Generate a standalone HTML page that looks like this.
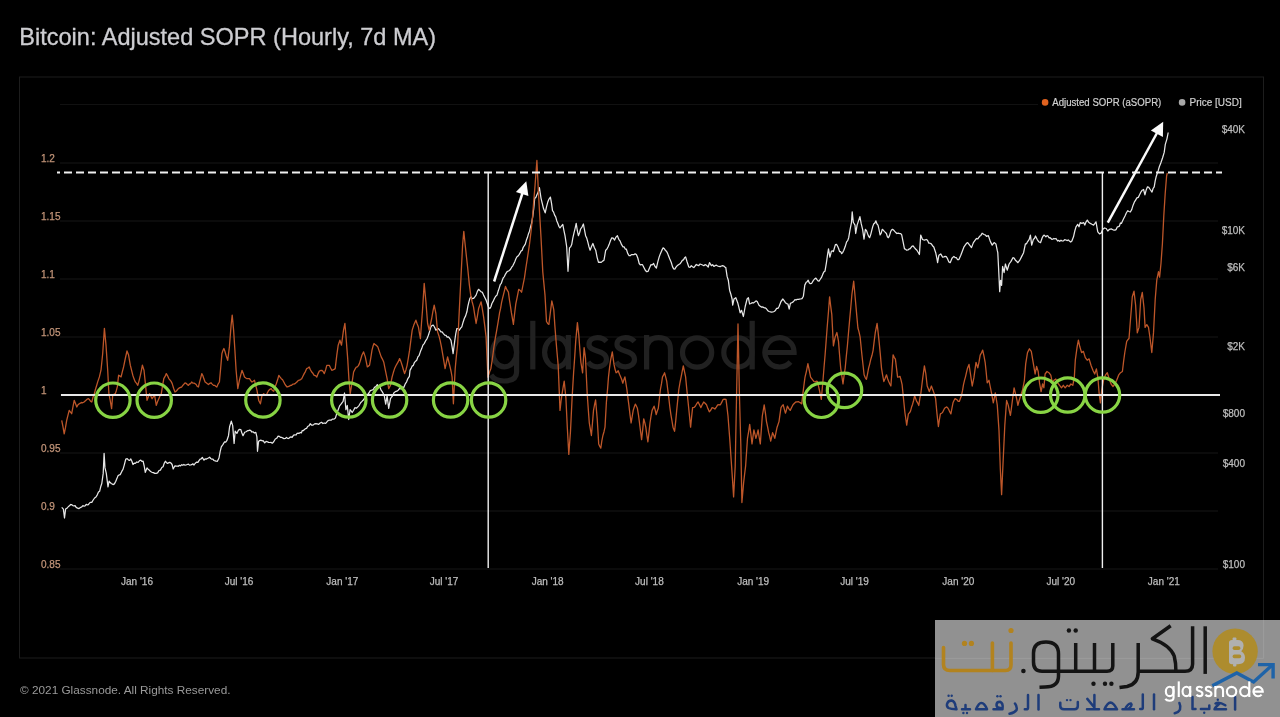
<!DOCTYPE html><html><head><meta charset="utf-8"><style>html,body{margin:0;padding:0;background:#000;width:1280px;height:717px;overflow:hidden}svg{display:block;will-change:transform}</style></head><body>
<svg width="1280" height="717" viewBox="0 0 1280 717" font-family="'Liberation Sans', sans-serif">
<rect width="1280" height="717" fill="#000"/><g opacity="0.999">
<text x="19.3" y="44.8" font-size="23.6" fill="#cdcdd1" stroke="#cdcdd1" stroke-width="0.3" textLength="416.8" lengthAdjust="spacingAndGlyphs">Bitcoin: Adjusted SOPR (Hourly, 7d MA)</text>
<rect x="19.5" y="77" width="1244" height="581" fill="none" stroke="#1d1d1d" stroke-width="1"/>
<line x1="60" y1="104.5" x2="1218" y2="104.5" stroke="#111111" stroke-width="1"/>
<line x1="60" y1="163" x2="1218" y2="163" stroke="#161616" stroke-width="1"/>
<line x1="60" y1="221" x2="1218" y2="221" stroke="#161616" stroke-width="1"/>
<line x1="60" y1="279" x2="1218" y2="279" stroke="#161616" stroke-width="1"/>
<line x1="60" y1="337" x2="1218" y2="337" stroke="#161616" stroke-width="1"/>
<line x1="60" y1="395" x2="1218" y2="395" stroke="#161616" stroke-width="1"/>
<line x1="60" y1="453" x2="1218" y2="453" stroke="#161616" stroke-width="1"/>
<line x1="60" y1="511" x2="1218" y2="511" stroke="#161616" stroke-width="1"/>
<line x1="60" y1="569" x2="1218" y2="569" stroke="#161616" stroke-width="1"/>
<g fill="none" stroke="#212121" stroke-width="5.2">
<ellipse cx="504.6" cy="352.2" rx="12" ry="14.6"/>
<path d="M516.6,335 V372 Q516.6,381 504,381 Q495,381 491,375"/>
<path d="M532.8,320.8 V369.4"/>
<ellipse cx="556.5" cy="352.2" rx="11.9" ry="14.6"/>
<path d="M568.4,335 V369.4"/>
<path d="M606.5,341.5 C604,338.5 600.5,337.6 597.5,337.6 C592,337.6 589,340.5 589,344.2 C589,353 606.5,349 606.5,359.5 C606.5,363.8 602.5,366.8 597.5,366.8 C593.5,366.8 590,365 588,362"/>
<path d="M634.5,341.5 C632,338.5 628.5,337.6 625.5,337.6 C620,337.6 617,340.5 617,344.2 C617,353 634.5,349 634.5,359.5 C634.5,363.8 630.5,366.8 625.5,366.8 C621.5,366.8 618,365 616,362"/>
<path d="M646.6,369.4 V335 M646.6,350 Q646.6,337.6 658.5,337.6 Q670.5,337.6 670.5,350 V369.4"/>
<circle cx="697.1" cy="352.5" r="14.6"/>
<ellipse cx="737.9" cy="352.4" rx="14.1" ry="14.6"/>
<path d="M752.2,320.8 V369.4"/>
<path d="M765,352.5 H794.1 A14.6,14.6 0 1 0 790.5,362"/>
</g>

<text x="41" y="162.2" font-size="10" fill="#c29478" stroke="#c29478" stroke-width="0.25">1.2</text>
<text x="41" y="220.2" font-size="10" fill="#c29478" stroke="#c29478" stroke-width="0.25">1.15</text>
<text x="41" y="278.2" font-size="10" fill="#c29478" stroke="#c29478" stroke-width="0.25">1.1</text>
<text x="41" y="336.2" font-size="10" fill="#c29478" stroke="#c29478" stroke-width="0.25">1.05</text>
<text x="41" y="394.2" font-size="10" fill="#c29478" stroke="#c29478" stroke-width="0.25">1</text>
<text x="41" y="452.2" font-size="10" fill="#c29478" stroke="#c29478" stroke-width="0.25">0.95</text>
<text x="41" y="510.2" font-size="10" fill="#c29478" stroke="#c29478" stroke-width="0.25">0.9</text>
<text x="41" y="568.2" font-size="10" fill="#c29478" stroke="#c29478" stroke-width="0.25">0.85</text>
<text x="1245" y="133" font-size="10" fill="#bdbdbd" stroke="#bdbdbd" stroke-width="0.25" text-anchor="end">$40K</text>
<text x="1245" y="234.3" font-size="10" fill="#bdbdbd" stroke="#bdbdbd" stroke-width="0.25" text-anchor="end">$10K</text>
<text x="1245" y="270.7" font-size="10" fill="#bdbdbd" stroke="#bdbdbd" stroke-width="0.25" text-anchor="end">$6K</text>
<text x="1245" y="350" font-size="10" fill="#bdbdbd" stroke="#bdbdbd" stroke-width="0.25" text-anchor="end">$2K</text>
<text x="1245" y="417" font-size="10" fill="#bdbdbd" stroke="#bdbdbd" stroke-width="0.25" text-anchor="end">$800</text>
<text x="1245" y="466.8" font-size="10" fill="#bdbdbd" stroke="#bdbdbd" stroke-width="0.25" text-anchor="end">$400</text>
<text x="1245" y="568" font-size="10" fill="#bdbdbd" stroke="#bdbdbd" stroke-width="0.25" text-anchor="end">$100</text>
<text x="137" y="585.3" font-size="10" fill="#bdbdbd" stroke="#bdbdbd" stroke-width="0.25" text-anchor="middle">Jan '16</text>
<text x="239" y="585.3" font-size="10" fill="#bdbdbd" stroke="#bdbdbd" stroke-width="0.25" text-anchor="middle">Jul '16</text>
<text x="342.3" y="585.3" font-size="10" fill="#bdbdbd" stroke="#bdbdbd" stroke-width="0.25" text-anchor="middle">Jan '17</text>
<text x="444" y="585.3" font-size="10" fill="#bdbdbd" stroke="#bdbdbd" stroke-width="0.25" text-anchor="middle">Jul '17</text>
<text x="547.6" y="585.3" font-size="10" fill="#bdbdbd" stroke="#bdbdbd" stroke-width="0.25" text-anchor="middle">Jan '18</text>
<text x="649.4" y="585.3" font-size="10" fill="#bdbdbd" stroke="#bdbdbd" stroke-width="0.25" text-anchor="middle">Jul '18</text>
<text x="753.2" y="585.3" font-size="10" fill="#bdbdbd" stroke="#bdbdbd" stroke-width="0.25" text-anchor="middle">Jan '19</text>
<text x="854.6" y="585.3" font-size="10" fill="#bdbdbd" stroke="#bdbdbd" stroke-width="0.25" text-anchor="middle">Jul '19</text>
<text x="958.3" y="585.3" font-size="10" fill="#bdbdbd" stroke="#bdbdbd" stroke-width="0.25" text-anchor="middle">Jan '20</text>
<text x="1060.8" y="585.3" font-size="10" fill="#bdbdbd" stroke="#bdbdbd" stroke-width="0.25" text-anchor="middle">Jul '20</text>
<text x="1163.8" y="585.3" font-size="10" fill="#bdbdbd" stroke="#bdbdbd" stroke-width="0.25" text-anchor="middle">Jan '21</text>
<polyline points="61.7,507.4 63.4,509.1 64.5,518.0 65.6,509.1 67.3,508.0 68.4,506.5 69.5,505.8 70.6,504.5 71.7,504.7 72.8,505.6 74.0,505.8 75.1,505.7 76.2,507.4 77.6,508.1 79.0,508.6 80.4,507.5 81.8,506.9 82.9,505.6 84.0,506.2 85.1,505.8 86.2,504.4 87.3,504.9 88.4,504.7 89.5,503.0 90.7,502.3 91.8,502.4 93.2,500.0 94.6,498.0 96.0,497.0 97.4,494.6 98.5,492.1 99.6,491.3 100.7,486.8 101.8,483.5 103.2,473.4 104.1,453.4 105.0,467.9 106.3,473.4 108.0,486.8 109.1,481.2 110.2,482.6 111.3,483.5 113.0,484.6 114.4,483.9 115.8,481.2 116.9,478.6 118.0,475.7 119.1,474.9 120.2,474.6 121.9,471.2 123.0,469.4 124.1,465.6 125.8,459.0 127.2,458.6 128.6,460.1 129.7,460.3 130.8,459.0 131.9,461.3 133.0,464.5 134.2,463.2 135.3,463.4 136.7,462.0 138.1,462.3 139.4,460.8 140.8,460.1 141.9,461.3 143.1,461.2 144.2,466.0 145.3,472.3 147.0,467.9 148.1,469.2 149.2,470.1 150.6,471.5 152.0,472.3 153.4,472.6 154.8,473.4 156.2,473.3 157.6,472.9 159.0,470.5 160.4,470.1 161.8,467.5 163.1,466.8 164.2,463.4 165.4,461.2 166.5,462.7 167.6,463.4 168.7,462.7 169.8,462.3 170.9,463.0 172.1,464.5 173.2,469.0 175.0,465.8 176.1,466.2 177.2,466.0 178.3,466.3 179.4,465.3 180.6,465.9 181.7,464.7 182.8,465.3 183.9,464.5 185.0,465.2 186.1,465.0 187.3,464.5 188.4,464.1 189.5,465.1 190.6,465.0 191.7,464.7 192.8,463.8 194.0,465.0 195.1,463.5 196.5,462.1 197.9,462.4 199.0,460.6 200.1,459.1 201.2,458.8 202.3,457.4 204.0,460.2 205.1,458.9 206.2,459.1 207.3,458.5 208.4,458.0 209.6,457.2 210.7,458.5 211.8,459.2 212.9,459.1 214.0,460.5 215.1,460.8 216.2,461.2 217.4,461.3 219.0,458.0 220.2,451.3 221.3,446.8 222.9,444.6 224.6,441.8 225.7,442.1 226.8,440.7 228.5,435.7 229.6,426.8 231.3,421.2 232.7,425.6 234.1,443.5 235.2,431.2 236.9,433.4 238.5,430.1 239.7,429.4 240.8,429.5 241.9,433.0 243.0,435.7 244.7,432.3 246.1,431.7 247.5,430.7 248.6,430.6 249.7,430.1 250.8,430.6 251.9,432.0 253.0,431.8 254.4,433.0 255.8,432.3 256.9,436.8 257.5,451.3 258.6,441.2 259.7,440.6 260.8,440.1 262.0,440.8 263.1,440.7 264.7,442.9 266.1,441.4 267.5,441.8 268.6,442.4 269.8,442.5 270.9,442.4 272.3,443.2 273.7,441.8 275.3,439.0 276.7,438.3 278.1,436.2 279.2,436.3 280.4,437.3 281.5,437.3 282.6,437.9 284.0,438.6 285.4,438.5 286.5,437.4 287.6,438.4 288.7,438.5 289.8,437.4 291.0,436.9 292.1,437.3 293.6,435.1 295.0,434.8 296.1,435.0 297.1,433.3 298.1,433.2 299.2,433.4 300.2,432.5 301.3,432.9 302.3,430.5 303.4,430.7 304.4,429.5 305.5,428.7 306.6,428.4 307.6,426.5 309.0,425.8 310.3,423.7 311.7,425.2 313.1,425.1 314.5,423.9 315.9,423.7 317.3,423.9 318.7,424.4 320.1,423.0 321.5,422.3 322.9,423.5 324.3,423.0 325.7,423.3 327.1,421.6 328.2,420.5 329.2,420.2 330.2,420.0 331.3,420.2 332.3,419.1 333.4,419.1 334.4,418.8 335.4,418.1 336.8,413.4 338.2,409.7 339.6,405.9 341.0,404.2 342.1,402.6 343.1,401.4 344.5,393.0 345.9,409.7 347.3,405.5 348.7,419.5 350.1,409.7 351.1,410.8 352.2,412.5 353.6,410.2 355.0,407.6 356.4,408.2 357.8,406.9 359.2,405.3 360.6,402.8 362.0,401.4 363.3,400.0 364.7,398.2 366.1,395.8 367.5,394.8 368.9,393.0 370.3,390.6 371.7,390.2 373.1,389.7 374.5,387.4 375.9,386.6 377.3,384.6 378.7,386.8 380.1,387.4 381.1,390.2 382.2,391.6 383.2,393.5 384.3,395.8 385.7,404.2 387.1,395.8 388.7,408.3 390.5,398.6 391.6,397.0 392.6,395.8 394.0,392.8 395.4,391.6 396.8,391.2 398.2,390.2 399.6,388.5 401.0,388.8 402.4,387.1 403.8,387.4 405.2,384.0 406.6,381.8 408.0,378.3 409.4,376.3 410.0,370.4 411.1,368.4 412.2,366.1 413.3,365.4 414.4,362.6 415.6,361.2 416.7,360.3 417.9,356.9 419.2,355.3 420.4,351.6 421.7,348.6 422.9,345.1 424.2,343.6 425.9,340.3 427.1,338.6 428.4,335.3 429.6,331.4 430.9,326.9 432.1,325.3 433.4,325.2 434.6,327.2 435.9,330.2 437.1,329.1 438.4,328.6 439.6,330.0 440.9,331.9 442.1,331.9 443.4,333.6 444.7,335.2 446.0,335.3 447.2,337.2 448.5,336.9 449.8,338.5 451.0,340.3 452.1,346.9 453.1,353.6 454.8,340.3 455.8,333.5 456.8,328.6 458.1,328.5 459.3,330.2 460.6,328.2 461.8,326.9 463.1,322.2 464.3,318.5 465.6,315.9 466.9,311.8 467.9,306.1 468.9,301.8 469.9,298.3 471.0,296.8 472.2,298.6 473.5,298.5 474.8,296.9 476.1,295.1 477.4,291.4 478.6,289.3 479.9,290.6 481.1,291.8 482.4,292.4 483.6,295.1 484.9,297.7 486.1,300.1 487.8,305.2 488.9,307.9 489.9,308.5 490.9,306.8 491.9,303.5 493.1,301.4 494.4,298.5 495.7,296.3 497.0,295.1 498.1,291.3 499.2,288.1 500.2,284.7 501.3,283.4 502.3,280.3 503.4,277.6 504.4,276.6 505.5,274.1 506.6,272.3 507.6,271.3 508.6,271.0 509.6,270.3 510.7,269.0 511.7,267.2 512.8,265.8 513.8,263.7 514.9,261.4 515.9,258.8 517.0,256.8 518.0,256.0 519.1,254.6 520.1,252.9 521.2,250.8 522.2,250.4 523.2,247.3 524.3,245.7 525.3,244.1 526.4,240.1 527.4,237.6 528.5,233.7 529.5,231.2 530.6,226.6 531.6,223.2 532.7,216.9 533.7,208.6 534.7,198.1 535.8,197.6 536.8,195.0 538.1,192.4 539.4,187.7 541.0,198.1 542.2,203.1 543.5,208.6 545.2,212.8 546.5,206.9 547.7,202.3 549.0,199.1 550.4,197.1 551.5,203.2 552.5,210.7 553.6,212.1 554.6,215.1 555.7,216.9 556.8,220.9 557.8,223.2 558.9,226.3 560.0,227.9 561.4,226.2 562.8,224.5 563.9,230.4 565.0,235.7 566.7,246.8 568.0,271.3 569.5,247.9 570.6,246.9 571.7,244.6 572.8,238.1 573.9,233.4 575.0,228.8 576.2,223.4 577.3,230.5 578.4,235.7 579.5,233.0 580.6,229.0 582.0,227.1 583.4,224.0 584.5,229.8 585.6,235.7 586.8,238.3 587.9,242.4 589.0,246.9 590.1,250.2 591.5,246.5 592.9,243.5 594.3,247.5 595.7,250.2 597.1,257.3 598.5,262.4 599.9,262.2 601.2,262.4 602.6,261.1 604.0,260.2 605.7,250.2 606.8,249.3 608.0,247.0 609.1,244.6 610.5,240.5 611.8,237.9 613.2,238.2 614.6,240.1 616.0,237.1 617.4,235.7 618.8,239.3 620.2,241.2 621.6,244.7 623.0,246.8 624.1,246.8 625.2,249.0 626.3,249.0 627.7,253.4 629.1,255.7 630.2,255.7 631.4,254.6 632.5,254.6 633.8,254.7 635.1,253.8 636.4,254.6 637.8,258.0 639.2,263.5 640.3,264.9 641.4,264.6 642.5,264.7 643.9,267.5 645.3,270.2 646.7,271.7 648.1,271.3 649.5,267.9 650.9,264.7 652.2,264.9 653.6,263.5 655.0,266.5 656.4,268.0 657.8,261.8 659.2,256.9 660.5,253.4 661.8,250.4 663.1,247.9 664.2,248.5 665.4,250.4 666.5,251.3 667.6,253.4 668.7,256.3 669.8,259.1 671.2,262.2 672.6,266.9 673.7,268.9 674.8,269.1 676.0,267.1 677.1,265.8 678.5,264.7 680.0,263.8 681.2,262.1 682.5,260.1 683.5,259.9 684.6,257.8 685.6,256.9 686.9,261.3 688.8,267.0 690.0,267.3 691.3,265.7 692.5,266.7 693.8,267.6 695.0,266.1 696.3,264.5 697.5,265.2 698.8,265.7 700.0,264.0 701.3,264.5 702.5,265.0 703.8,265.7 705.0,264.7 706.3,265.1 708.2,267.0 709.5,262.6 711.4,265.7 712.6,264.6 713.9,266.4 715.1,265.7 716.4,265.2 717.6,266.0 718.9,266.3 720.2,266.6 721.4,266.0 722.7,265.7 723.7,266.0 724.8,267.0 725.8,267.6 727.1,276.4 728.3,280.2 729.6,290.2 730.8,294.0 732.1,299.0 732.7,305.2 734.0,299.0 735.8,297.7 737.7,302.7 739.0,307.8 740.2,312.8 741.5,310.3 743.4,316.5 745.2,306.5 747.1,299.0 748.4,297.7 749.6,304.0 750.9,303.5 752.1,302.7 753.4,303.0 754.7,302.1 756.0,300.9 757.2,301.5 759.0,305.2 760.3,306.3 761.6,307.1 762.9,306.9 764.1,307.8 765.4,307.9 766.6,309.0 767.9,310.8 769.1,311.5 770.4,311.8 771.6,312.1 772.9,311.9 774.1,311.5 775.4,310.5 776.6,308.4 777.9,308.4 779.1,306.5 781.0,301.5 782.9,299.0 784.1,300.7 785.4,302.7 786.6,303.6 787.9,304.0 789.2,309.0 790.4,303.4 791.6,302.8 792.9,302.1 794.0,300.9 795.0,299.7 796.1,300.0 797.2,299.3 798.4,299.4 799.5,299.1 800.6,299.0 802.0,298.6 803.4,296.2 804.8,285.1 806.2,282.3 807.2,281.7 808.2,280.2 809.2,282.8 810.3,283.7 811.7,283.3 813.1,280.9 814.5,279.0 815.9,278.1 817.0,279.6 818.0,280.9 819.0,281.2 820.1,279.5 821.5,277.4 822.9,273.9 824.0,271.7 825.0,271.1 826.4,262.8 827.8,253.0 828.5,248.8 829.9,257.2 831.3,251.6 832.3,250.8 833.4,251.6 834.4,248.0 835.4,244.6 836.5,244.4 837.5,246.0 838.5,248.2 839.6,251.6 840.7,251.7 841.7,253.7 842.8,252.3 843.8,250.2 845.2,246.6 846.6,241.8 847.7,240.6 848.7,237.7 850.1,229.3 851.5,222.3 852.2,211.9 853.3,222.3 855.0,225.1 855.7,233.5 857.1,225.1 858.5,220.9 859.9,216.7 861.2,223.7 862.6,229.3 864.0,239.1 865.4,229.3 866.5,230.6 867.5,233.5 868.5,236.1 869.6,237.7 870.7,234.6 871.7,230.7 872.8,226.4 873.8,223.7 874.8,223.1 875.9,220.9 877.0,224.0 878.0,225.1 879.0,229.4 880.1,234.9 881.2,233.1 882.2,229.3 883.2,230.1 884.3,231.4 885.3,232.4 886.4,233.5 887.4,236.7 888.4,237.7 889.5,235.6 890.5,232.1 891.5,230.0 892.6,229.3 893.7,230.2 894.7,231.4 895.8,232.5 896.8,233.5 898.2,233.1 899.6,233.5 900.7,233.5 901.7,234.9 903.1,241.8 904.5,248.8 905.5,249.1 906.6,250.2 908.0,250.0 909.4,248.8 910.0,248.9 911.9,246.4 913.1,245.9 914.4,247.6 915.6,249.0 916.9,250.2 918.1,252.2 919.4,254.5 920.7,235.1 922.5,239.5 924.4,240.1 926.3,239.5 927.5,240.3 928.8,243.2 930.0,243.2 931.3,243.9 932.5,245.7 933.8,247.0 935.7,252.7 937.0,258.9 937.6,262.7 938.9,255.2 940.7,253.9 942.6,257.1 943.9,256.8 945.1,256.4 946.4,256.7 947.6,258.9 948.9,261.9 950.2,262.7 952.0,258.3 953.9,256.4 955.1,257.7 956.4,257.7 957.6,259.7 958.9,259.6 960.8,255.2 962.7,250.2 964.0,246.8 965.2,245.1 966.5,243.3 967.7,242.6 969.6,245.1 971.5,247.6 973.4,242.6 975.2,240.1 976.5,238.5 977.8,238.9 979.6,236.3 980.9,235.4 982.1,233.2 984.0,234.5 985.2,234.9 986.5,236.3 988.4,235.7 990.3,241.4 992.2,245.1 994.1,242.6 995.9,243.9 997.2,250.2 997.8,252.7 998.5,266.5 999.1,279.0 999.7,291.6 1000.6,280.3 1001.6,285.3 1002.6,266.5 1004.1,272.7 1005.4,264.0 1007.2,270.2 1009.1,264.0 1011.0,261.4 1012.9,257.7 1014.1,258.1 1015.4,260.2 1016.6,261.3 1017.9,262.7 1019.8,260.2 1021.7,256.4 1023.6,252.7 1025.4,243.9 1026.5,243.8 1027.5,241.8 1029.2,239.3 1030.4,235.1 1031.7,245.2 1033.4,239.3 1034.5,238.4 1035.5,236.0 1037.1,239.3 1038.8,241.8 1040.5,242.7 1042.2,237.7 1043.2,235.9 1044.2,235.1 1045.9,236.8 1047.0,235.6 1048.0,236.0 1049.0,237.8 1050.1,237.7 1051.8,239.3 1052.8,239.1 1053.9,238.5 1055.0,238.9 1056.0,238.5 1057.6,241.0 1058.7,240.3 1059.7,241.4 1061.0,240.2 1062.2,241.0 1063.5,240.8 1064.7,239.7 1066.0,240.0 1067.3,240.6 1068.3,239.9 1069.4,241.0 1070.7,242.0 1071.9,241.0 1073.5,236.8 1074.8,231.0 1076.0,226.8 1077.7,224.3 1079.0,226.8 1080.2,222.6 1081.9,223.4 1083.6,222.6 1084.8,225.1 1086.1,221.8 1087.3,220.1 1088.6,222.2 1090.3,223.4 1091.9,224.3 1093.6,225.1 1094.9,223.4 1096.0,221.8 1097.0,227.6 1097.8,231.8 1099.5,233.9 1101.2,233.1 1102.8,229.3 1104.5,228.0 1106.2,228.5 1107.8,231.0 1109.5,229.3 1111.2,228.9 1112.9,229.7 1114.0,230.2 1115.0,230.1 1116.1,229.6 1117.3,226.9 1118.4,226.6 1119.4,226.1 1120.4,223.0 1121.4,223.4 1122.4,221.3 1123.7,218.5 1125.0,216.0 1126.3,213.0 1127.7,210.7 1129.0,211.5 1130.3,212.0 1131.7,209.6 1133.0,205.4 1134.3,202.2 1135.6,200.1 1136.9,197.9 1138.3,197.4 1139.6,194.8 1140.9,192.1 1142.2,190.2 1143.6,189.5 1144.9,194.8 1146.2,189.9 1147.5,186.8 1148.8,187.4 1150.2,189.5 1152.0,192.1 1153.1,188.5 1154.2,186.8 1155.2,180.8 1156.3,176.2 1158.1,170.9 1159.4,166.5 1160.8,163.0 1162.6,157.7 1164.2,152.4 1165.3,144.4 1166.9,139.1 1168.2,132.5" fill="none" stroke="#e6e6e6" stroke-width="1.25" stroke-linejoin="round"/>
<polyline points="61.7,420.4 63.0,426.9 64.2,433.8 65.5,427.4 66.7,420.4 68.0,415.1 69.2,410.4 70.5,412.1 71.7,413.7 73.0,406.6 74.2,400.3 75.5,403.5 76.8,407.0 78.0,404.8 79.3,403.7 80.4,403.1 81.5,402.5 82.6,402.8 83.7,402.2 84.9,401.2 86.0,400.3 87.2,399.1 88.5,398.7 89.6,399.8 90.7,401.4 91.8,402.0 92.9,397.6 94.1,394.6 95.2,390.3 96.5,386.0 97.7,381.9 99.4,376.9 101.0,370.2 102.7,353.5 104.4,328.4 106.0,345.1 107.7,370.2 108.9,393.6 110.2,400.3 111.6,408.7 112.7,395.3 114.0,394.4 115.3,393.6 116.3,390.7 117.3,386.9 118.6,375.2 119.8,375.9 121.1,376.9 122.3,371.9 123.6,366.9 125.3,358.5 127.0,351.0 128.6,355.1 130.3,365.2 131.6,370.4 132.8,375.2 134.1,379.1 135.3,381.9 136.6,383.4 137.8,385.3 139.1,380.6 140.4,375.2 141.4,370.4 142.4,365.2 144.0,370.2 145.4,383.6 147.0,400.3 148.3,397.1 149.6,393.6 150.8,396.0 152.1,398.7 153.3,396.8 154.6,395.3 156.3,405.4 157.6,401.5 158.8,398.7 160.1,395.7 161.3,393.6 162.6,385.6 163.8,378.6 165.1,376.4 166.3,373.6 167.6,375.8 168.8,378.6 169.9,379.9 171.1,381.4 172.2,383.6 173.6,388.2 175.0,392.0 176.1,391.3 177.2,390.0 178.3,388.7 179.4,387.9 180.6,387.3 181.7,387.0 182.8,385.4 183.9,384.2 185.0,382.8 186.1,383.3 187.3,384.5 188.4,385.4 189.5,384.0 190.6,383.7 191.7,382.0 192.8,383.1 194.0,383.2 195.1,383.7 196.2,384.5 197.3,386.5 198.4,387.0 199.5,382.3 200.7,377.9 201.8,373.6 202.9,375.8 204.0,379.1 205.1,382.0 206.2,382.8 207.4,383.7 208.5,384.5 209.8,383.3 211.0,382.8 212.2,384.1 213.5,385.4 214.6,385.3 215.7,386.2 216.8,387.0 218.1,384.0 219.4,382.0 220.7,367.7 221.9,353.6 222.9,350.5 223.9,348.5 224.9,351.3 226.0,355.2 227.7,360.3 229.4,346.9 231.1,325.1 232.2,315.1 233.6,330.1 234.9,350.2 236.1,370.3 237.8,388.7 239.4,380.3 240.7,375.1 242.0,370.3 243.2,373.3 244.5,377.0 245.8,378.0 247.0,378.7 248.2,378.7 249.5,378.7 250.8,380.7 252.0,382.0 253.2,381.3 254.5,380.3 255.8,385.6 257.0,390.4 258.7,400.4 260.4,403.8 262.0,395.4 263.7,393.7 264.9,395.0 266.2,395.4 267.4,392.8 268.7,390.4 269.9,389.3 271.2,388.7 272.4,390.5 273.7,391.2 275.0,387.0 276.3,383.7 277.6,379.8 278.8,375.3 280.1,377.2 281.3,378.7 282.6,379.8 283.8,382.0 284.9,384.1 286.0,385.8 287.1,387.0 288.2,386.6 289.4,386.2 290.5,385.4 291.6,385.3 292.8,384.1 293.9,384.2 295.0,383.7 296.1,382.6 297.2,381.8 298.3,380.3 299.4,380.1 300.6,379.6 301.7,378.7 302.9,376.3 304.2,373.6 305.4,371.6 306.7,368.6 307.9,368.0 309.2,366.9 310.4,369.7 311.7,372.0 312.9,373.3 314.2,375.3 315.5,375.6 316.8,377.0 318.1,373.6 319.3,371.1 320.6,370.5 321.8,370.3 323.1,371.5 324.3,373.6 325.6,369.9 326.8,365.3 328.1,365.4 329.3,365.3 330.6,368.0 331.8,370.3 332.9,369.9 334.1,369.4 335.2,368.6 336.8,355.2 338.2,345.2 339.9,340.2 341.5,345.2 342.5,337.6 343.5,330.1 344.9,323.4 346.0,336.8 347.7,358.6 348.9,378.7 350.2,393.7 351.9,383.7 353.6,372.0 355.3,368.6 356.3,367.2 357.3,366.9 358.4,365.6 359.4,363.6 360.6,359.7 361.9,355.2 363.6,351.9 365.3,356.9 366.3,361.9 367.3,366.9 368.4,366.1 369.5,365.3 370.8,357.9 372.0,350.2 373.0,346.3 374.0,343.5 375.1,344.6 376.2,345.2 377.8,346.9 379.5,351.9 381.2,356.9 382.4,359.1 383.7,361.9 385.4,370.3 387.1,378.7 388.7,388.7 390.4,385.4 392.1,377.0 393.4,372.3 394.6,368.6 395.9,365.8 397.1,363.6 398.4,361.4 399.6,358.6 400.9,361.6 402.1,365.3 403.4,369.7 404.6,373.6 405.9,370.0 407.1,365.3 408.4,357.7 409.6,350.2 410.9,340.0 412.2,330.1 413.8,325.1 414.9,322.6 415.9,320.2 417.1,323.8 418.4,326.9 419.4,333.1 420.4,338.6 421.4,324.5 422.5,310.2 424.2,283.4 425.9,301.8 427.6,323.5 429.2,330.2 430.4,324.5 431.7,318.5 432.9,311.3 434.2,305.2 435.9,313.5 437.6,331.9 438.9,335.7 440.1,340.3 441.4,346.7 442.6,353.6 443.9,361.4 445.1,368.7 446.4,362.6 447.6,357.0 448.9,362.1 450.1,367.0 451.1,371.5 452.1,377.1 453.4,403.8 455.2,368.7 456.4,355.6 457.7,343.6 459.3,310.2 461.0,276.7 462.6,245.0 463.8,231.4 465.2,245.0 466.4,256.2 467.7,268.0 469.4,285.1 471.0,296.8 472.2,302.0 473.5,306.8 474.8,315.4 476.1,323.5 477.4,316.2 478.6,308.5 479.9,304.9 481.1,301.8 482.4,309.4 483.6,316.9 484.9,326.9 486.1,336.9 487.9,377.2 488.9,374.2 489.9,370.9 490.9,368.4 492.4,358.6 493.8,347.9 495.2,338.7 496.7,330.3 498.1,322.1 499.6,312.7 500.6,308.4 501.6,302.4 502.6,298.1 504.1,292.2 505.5,286.4 506.9,289.7 508.4,292.2 509.4,299.6 510.4,305.8 511.4,312.7 512.4,318.3 513.4,324.4 514.6,313.8 515.8,303.9 517.2,297.1 518.7,289.3 520.2,290.4 521.6,292.2 523.0,285.0 524.5,277.6 525.8,268.4 527.1,260.0 528.3,252.1 529.5,244.2 530.9,232.5 532.3,219.8 533.7,201.9 535.1,184.9 536.9,160.5 538.6,195.3 539.8,216.6 541.0,237.2 542.8,272.1 543.9,283.6 545.0,295.1 546.5,321.5 547.7,323.4 548.9,324.4 550.3,312.9 551.8,301.0 552.8,305.1 553.8,309.8 554.8,324.9 555.9,339.1 557.0,352.2 558.2,365.4 560.0,410.4 561.0,401.5 562.1,393.7 563.2,386.8 564.2,381.1 565.9,397.9 567.3,427.2 568.8,454.4 570.5,431.3 572.1,397.9 573.6,372.8 574.7,357.1 575.7,341.4 577.4,322.6 578.8,335.1 579.8,348.6 580.9,362.3 582.6,372.8 584.1,347.7 585.5,358.1 587.2,393.7 588.2,408.1 589.3,423.0 590.3,428.8 591.4,435.5 592.5,422.8 593.5,410.4 594.5,405.0 595.6,400.0 597.2,418.8 598.7,443.9 599.8,446.4 600.8,448.1 601.8,441.2 602.9,435.5 604.0,431.7 605.0,427.2 606.4,402.1 607.5,389.9 608.5,376.9 609.5,368.1 610.6,360.2 612.3,351.8 614.0,364.4 615.0,369.1 616.1,372.8 617.2,372.0 618.2,370.7 619.5,374.3 620.7,376.9 621.8,379.8 622.8,383.2 623.8,379.9 624.9,376.9 625.9,383.1 626.9,389.5 628.0,398.4 629.0,406.2 630.0,414.7 631.1,423.0 632.2,416.5 633.2,410.4 634.2,407.2 635.3,404.1 636.3,405.9 637.4,408.3 638.5,415.1 639.5,423.0 640.5,430.9 641.6,439.7 642.7,429.7 643.7,418.8 644.8,422.7 645.8,427.2 646.8,435.0 647.9,441.8 649.0,432.1 650.0,423.0 651.0,416.4 652.1,410.4 653.1,408.3 654.1,406.2 655.2,410.0 656.2,414.6 657.2,411.3 658.3,408.3 659.3,399.4 660.4,389.5 661.5,383.7 662.5,376.9 663.5,375.2 664.6,372.8 665.7,377.1 666.7,381.1 667.8,390.0 668.8,397.9 669.8,406.8 670.9,414.6 672.0,421.0 673.0,427.2 674.6,431.3 675.7,421.1 676.7,410.4 677.8,399.4 678.8,389.5 680.0,382.5 681.1,377.2 682.2,371.3 683.3,365.8 684.5,371.7 685.6,376.9 686.7,388.3 687.8,399.3 689.2,413.0 690.6,427.2 691.6,416.9 692.6,407.6 694.0,407.4 695.3,406.2 696.7,403.7 698.1,402.0 699.5,404.8 700.9,407.6 702.3,404.6 703.7,402.0 705.1,403.2 706.5,404.8 707.9,408.6 709.3,411.8 710.7,410.3 712.1,407.6 713.5,408.0 714.9,409.0 716.3,407.1 717.7,404.8 719.0,404.6 720.4,404.8 721.8,402.1 723.2,399.3 724.6,399.2 726.0,399.3 727.0,407.3 728.0,416.0 729.7,438.3 731.6,466.2 732.6,481.1 733.6,496.9 735.2,466.2 736.6,393.7 738.0,323.9 739.4,393.7 740.8,443.9 741.9,502.5 743.6,482.9 744.6,474.2 745.6,466.2 747.5,438.3 748.6,431.8 749.7,424.4 750.9,434.1 752.0,443.9 753.9,429.9 754.9,433.8 755.9,438.3 757.0,434.6 758.1,429.9 759.2,437.5 760.3,443.9 761.3,429.9 762.3,416.0 764.2,404.8 765.4,412.8 766.5,421.6 767.6,426.8 768.7,432.7 769.7,436.4 770.7,441.1 772.6,432.7 773.7,435.3 774.8,438.3 776.0,432.3 777.1,427.2 779.0,421.6 780.0,414.3 781.0,407.6 782.1,405.9 783.2,404.8 784.3,409.1 785.4,413.2 786.4,410.2 787.4,406.2 788.8,408.6 790.2,410.4 791.6,407.5 793.0,404.8 794.4,403.3 795.8,402.0 797.0,401.8 798.3,401.6 799.4,402.2 800.6,402.9 801.7,403.8 802.8,394.4 803.9,385.7 805.0,377.1 806.5,371.0 807.9,363.7 809.2,370.0 810.6,377.1 811.7,378.6 812.9,380.2 814.0,381.5 815.1,381.9 816.2,381.2 817.3,381.5 818.4,385.7 819.5,390.5 821.3,399.4 822.9,381.5 824.0,367.8 825.1,354.8 826.2,340.2 827.3,325.8 828.5,311.2 829.6,296.8 830.7,306.2 831.8,314.6 833.4,345.8 835.2,336.9 836.9,332.5 838.5,341.4 839.6,355.2 840.7,368.1 841.9,376.4 843.0,383.8 844.1,375.4 845.2,368.1 846.3,356.4 847.4,345.8 848.5,332.7 849.7,319.1 850.8,307.3 851.9,294.5 853.7,281.2 854.7,292.3 855.7,303.5 856.8,315.9 857.9,328.0 859.0,331.9 860.1,336.9 861.9,354.8 863.0,364.7 864.1,374.8 865.2,377.6 866.4,379.3 867.5,374.1 868.6,368.1 869.7,364.1 870.8,359.2 872.0,355.3 873.1,350.3 874.2,341.1 875.3,332.5 877.1,323.5 878.2,333.1 879.3,343.6 880.4,355.4 881.5,368.1 882.6,374.8 883.8,381.5 885.1,378.4 886.5,374.8 887.6,378.7 888.7,381.5 889.8,384.0 890.9,386.0 892.0,370.6 893.1,354.8 894.2,357.3 895.4,359.2 896.5,368.1 897.6,377.1 898.8,376.8 900.0,376.3 901.0,379.9 902.1,384.6 903.5,398.6 904.9,412.5 906.7,425.1 908.4,413.9 909.5,412.8 910.5,411.1 911.5,407.3 912.6,404.2 913.6,400.5 914.6,395.8 915.7,398.8 916.7,401.4 917.8,403.2 918.8,405.5 919.8,398.8 920.9,393.0 922.6,379.1 924.4,365.8 925.8,373.5 927.2,386.0 928.2,388.5 929.3,391.6 930.3,389.0 931.4,386.0 932.5,389.0 933.5,391.6 934.5,394.6 935.6,398.6 937.0,413.9 938.4,426.5 939.4,419.7 940.4,413.9 941.5,413.2 942.5,412.5 943.5,410.5 944.6,408.3 945.7,407.5 946.7,406.9 947.8,408.0 948.8,409.7 949.8,411.9 950.9,413.9 952.0,407.8 953.0,402.8 954.0,400.5 955.1,398.6 956.2,399.3 957.2,400.0 958.2,401.3 959.3,401.4 960.3,398.8 961.4,395.8 962.5,390.7 963.5,384.6 964.5,380.4 965.6,376.3 966.6,371.8 967.6,367.9 969.0,364.4 970.4,373.5 972.2,386.0 973.9,377.7 975.0,369.7 976.0,362.3 977.8,367.9 979.0,362.1 980.2,355.1 981.5,352.8 982.7,350.1 984.0,356.2 985.2,362.7 986.2,372.2 987.2,382.8 989.0,380.3 990.2,386.5 991.5,392.8 993.3,402.9 994.3,398.1 995.3,392.8 996.3,399.0 997.3,405.4 999.0,430.5 1000.3,468.2 1001.6,494.6 1002.8,468.2 1003.8,446.6 1004.8,425.5 1006.6,400.4 1008.3,405.4 1009.3,410.6 1010.4,415.4 1011.4,408.4 1012.4,400.4 1014.1,387.8 1015.9,395.3 1016.9,400.0 1017.9,405.4 1019.0,401.0 1020.0,397.8 1021.2,393.9 1022.5,390.3 1024.4,380.3 1025.7,363.9 1027.5,352.6 1029.4,348.8 1031.3,351.4 1033.2,362.7 1035.1,374.0 1036.6,366.4 1038.2,371.5 1039.5,382.8 1041.1,391.6 1042.6,384.0 1043.9,387.8 1045.1,374.0 1047.0,371.5 1048.9,372.7 1050.8,375.2 1052.4,382.8 1053.9,380.3 1055.8,379.0 1057.7,382.8 1059.6,385.3 1061.5,387.8 1063.3,385.3 1065.2,387.8 1067.1,385.3 1069.0,386.5 1070.9,384.0 1072.8,385.3 1074.3,377.7 1075.3,360.2 1077.2,346.3 1078.4,340.1 1079.7,346.3 1081.6,352.6 1083.4,351.4 1085.3,357.6 1087.2,360.2 1089.1,358.9 1091.0,365.2 1092.9,370.2 1094.7,374.0 1096.4,368.9 1097.9,377.7 1099.1,392.8 1100.4,402.9 1101.7,390.3 1103.5,380.3 1105.4,375.2 1107.3,372.7 1109.2,379.0 1111.1,384.0 1113.0,386.5 1114.8,384.0 1116.7,380.3 1118.6,375.2 1120.5,372.7 1122.4,371.5 1123.6,361.4 1124.8,352.5 1126.7,341.3 1127.8,339.8 1129.0,338.5 1130.3,321.8 1131.3,309.5 1132.3,296.7 1134.0,291.1 1135.6,305.0 1137.3,332.9 1139.0,327.4 1140.7,299.5 1142.3,292.5 1144.0,307.8 1145.1,327.4 1146.8,324.6 1148.5,327.4 1150.1,338.5 1151.8,352.5 1153.5,332.9 1155.2,299.5 1156.8,279.9 1158.5,271.6 1159.6,277.2 1161.0,263.2 1162.4,243.7 1163.8,215.8 1165.2,193.5 1166.6,176.0 1167.3,173.0" fill="none" stroke="#bd5629" stroke-width="1.3" stroke-linejoin="round"/>
<line x1="61" y1="395" x2="1220" y2="395" stroke="#e8e8e8" stroke-width="2"/>
<line x1="57" y1="172.5" x2="1222" y2="172.5" stroke="#f0f0f0" stroke-width="2" stroke-dasharray="8 4" stroke-dashoffset="5"/>
<line x1="488.2" y1="172" x2="488.2" y2="568" stroke="#f0f0f0" stroke-width="1.4"/>
<line x1="1102.4" y1="172" x2="1102.4" y2="568" stroke="#f0f0f0" stroke-width="1.4"/>
<line x1="494.1" y1="281.5" x2="522.5" y2="193" stroke="#fafafa" stroke-width="2.5"/>
<polygon points="526.3,181.3 515.9,191.9 528.4,195.9" fill="#fafafa"/>
<line x1="1107.8" y1="222.6" x2="1157" y2="133" stroke="#fafafa" stroke-width="2.5"/>
<polygon points="1163.2,121.7 1150.9,130.6 1162.9,137.1" fill="#fafafa"/>
<circle cx="112.9" cy="400.2" r="17.2" fill="none" stroke="#88d444" stroke-width="3.2"/>
<circle cx="154.2" cy="400.2" r="17.2" fill="none" stroke="#88d444" stroke-width="3.2"/>
<circle cx="262.9" cy="400" r="17.2" fill="none" stroke="#88d444" stroke-width="3.2"/>
<circle cx="348.8" cy="400" r="17.2" fill="none" stroke="#88d444" stroke-width="3.2"/>
<circle cx="389.6" cy="400" r="17.2" fill="none" stroke="#88d444" stroke-width="3.2"/>
<circle cx="450.6" cy="400" r="17.2" fill="none" stroke="#88d444" stroke-width="3.2"/>
<circle cx="488.6" cy="400" r="17.2" fill="none" stroke="#88d444" stroke-width="3.2"/>
<circle cx="821.4" cy="400.3" r="17.2" fill="none" stroke="#88d444" stroke-width="3.2"/>
<circle cx="844.5" cy="390.4" r="17.2" fill="none" stroke="#88d444" stroke-width="3.2"/>
<circle cx="1040.8" cy="395.2" r="17.2" fill="none" stroke="#88d444" stroke-width="3.2"/>
<circle cx="1067.7" cy="395" r="17.2" fill="none" stroke="#88d444" stroke-width="3.2"/>
<circle cx="1102.5" cy="395" r="17.2" fill="none" stroke="#88d444" stroke-width="3.2"/>
<rect x="1038" y="94" width="210" height="16" fill="#000"/>
<circle cx="1045.1" cy="102.4" r="3.3" fill="#e0621f"/>
<text x="1052.3" y="105.6" font-size="10" fill="#d0d0d0" stroke="#d0d0d0" stroke-width="0.2" textLength="109" lengthAdjust="spacingAndGlyphs">Adjusted SOPR (aSOPR)</text>
<circle cx="1182.1" cy="102.4" r="3.3" fill="#a8a8a8"/>
<text x="1189.5" y="105.6" font-size="10" fill="#d0d0d0" stroke="#d0d0d0" stroke-width="0.2">Price [USD]</text>
<text x="20" y="694.4" font-size="11.5" fill="#9a9a9a" textLength="210.5" lengthAdjust="spacingAndGlyphs">© 2021 Glassnode. All Rights Reserved.</text>
<g id="logo">
<rect x="935" y="620" width="345" height="97" fill="#919191"/>
<path d="M935,658.4 H1263.6 V620" fill="none" stroke="#9c9c9c" stroke-width="1"/>
<!-- gold nt -->
<g fill="none" stroke="#b2831f" stroke-width="3.6" stroke-linecap="round" stroke-linejoin="round">
<path d="M943.5,647.5 V664.5 Q943.5,670.5 950,670.5 H1005.5 Q1011,670.5 1011,665 V643"/>
<path d="M992.4,643 V670.5"/>
</g>
<g fill="#b2831f">
<circle cx="964.5" cy="643.4" r="2.6"/><circle cx="971.4" cy="643.4" r="2.6"/><circle cx="1011" cy="630.5" r="2.6"/>
</g>
<!-- black alkrypto -->
<g fill="none" stroke="#141414" stroke-width="3.5" stroke-linecap="butt" stroke-linejoin="round">
<path d="M1205.2,626.3 V673.9"/>
<path d="M1192.6,626.3 V664 Q1192.6,671.3 1185,671.3 H1138.2"/>
<path d="M1170.7,625.8 L1152.4,638.8 Q1170,645 1174.2,656 Q1176,663 1175.9,671.3"/>
<path d="M1138.2,643 V672 Q1138.2,684 1127,686.5 L1119.5,687.5"/>
<path d="M1112.8,643 V666 Q1112.8,671.3 1107,671.3 H1042 Q1033.5,671.3 1033.5,662 V653 Q1033.5,642 1046,642 Q1058.5,642 1058.5,654 V676 Q1058.5,687 1045,687 L1039.5,687.2"/>
<path d="M1094.5,643 V671.3"/>
<path d="M1075.7,643 V671.3"/>
</g>
<g fill="#141414">
<circle cx="1023.4" cy="671" r="2.3"/>
<circle cx="1068.9" cy="630.5" r="2.2"/><circle cx="1075.7" cy="630.5" r="2.2"/>
<circle cx="1093.5" cy="683.8" r="2.2"/><circle cx="1105" cy="683.8" r="2.2"/><circle cx="1111.4" cy="683.8" r="2.2"/>
</g>
<!-- bitcoin coin -->
<circle cx="1235.1" cy="651.3" r="22.7" fill="#ad8c2e"/>
<g fill="#b0b0b0">
<path d="M1229,642.5 Q1229,640 1232,640 L1237.5,640 Q1243.6,640 1243.6,645.6 Q1243.6,649 1241.2,651.2 Q1245,653.3 1245,657.8 Q1245,664.2 1238,664.2 L1232,664.2 Q1229,664.2 1229,661.5 Z"/>
<rect x="1232.6" y="637.6" width="3.8" height="3.2" rx="1"/>
<rect x="1233" y="663.4" width="3.4" height="3.2" rx="1"/>
</g>
<g fill="#ad8c2e">
<rect x="1232.6" y="646.2" width="7.8" height="3.8" rx="1.8"/>
<rect x="1232.6" y="654.4" width="8.6" height="3.8" rx="1.8"/>
</g>
<!-- blue arrow -->
<g fill="none" stroke="#1e63a8" stroke-width="3.4" stroke-linecap="butt" stroke-linejoin="miter">
<polyline points="1212.3,685.8 1236.8,673 1253.6,682 1271.8,665.5"/>
<polyline points="1258,664.6 1273.1,664.6 1273.1,678.6"/>
</g>
<!-- blue arabic tagline -->
<g fill="none" stroke="#1e3c7a" stroke-width="2.5" stroke-linecap="round" stroke-linejoin="round">
<path d="M956,709.3 Q951,709.3 948.5,708 Q946.5,706.5 947,704 Q948,700.5 951.5,700.5 Q955,701.5 955.5,706 L956.5,709.3"/>
<path d="M962,709.3 H970 M965.5,709.3 V705"/>
<path d="M976,709.3 Q979,702.5 981.5,703 Q984.5,703 987,709.3 Z"/>
<path d="M993.5,709.3 H1002.5 Q1003.5,703 1000,701.8 Q996.5,701.8 996.5,705 Q996.5,708 1000.5,708"/>
<path d="M1015,703.6 Q1017.5,707 1016.5,710 Q1014.5,713 1009.5,713.8"/>
<path d="M1028,695 V708 Q1028,709.3 1026,709.3 H1024.8"/>
<path d="M1038.5,695 V709.5"/>
<path d="M1060.3,702.8 V706 Q1060.3,709.2 1064,709.2 H1074.5 Q1077.8,709.2 1077.8,706 V702"/>
<path d="M1087.3,698.9 L1094.4,707.5 M1094.4,695 V709.3 M1087,709.3 H1099"/>
<path d="M1104.5,709.3 Q1107.5,702.8 1110.5,702.6 Q1113.5,702.8 1117,709.3 Z"/>
<path d="M1122.5,709.3 H1134 M1125,709.3 Q1128,703 1131,703.5 Q1133,705 1128,709.3"/>
<path d="M1142.8,694.6 V708 Q1142.8,709.1 1141,709.1 H1140.2"/>
<path d="M1154,694.6 V709.3"/>
<path d="M1179.4,703 Q1181,706.5 1180,709.5 Q1178.5,712.5 1174.7,713.3"/>
<path d="M1192.5,696.9 V709.1 H1195.5"/>
<path d="M1200.9,709.1 H1209.3 V705.5"/>
<path d="M1225.3,705.3 Q1219,701.5 1215.5,703.5 M1219,704 Q1214.5,708 1214.5,709.3 H1226"/>
<path d="M1235.1,696.9 V709.6"/>
</g>
<g fill="#1e3c7a">
<circle cx="948.6" cy="695.8" r="1.2"/><circle cx="951.7" cy="695.8" r="1.2"/>
<circle cx="963.4" cy="713" r="1.2"/><circle cx="967" cy="713" r="1.2"/>
<circle cx="997.4" cy="696.2" r="1.2"/><circle cx="1000.5" cy="696.2" r="1.2"/>
<circle cx="1067" cy="700.1" r="1.2"/><circle cx="1070.5" cy="700.1" r="1.2"/>
<circle cx="1204.2" cy="712.8" r="1.2"/><circle cx="1217.8" cy="699.7" r="1.2"/>
</g>
<!-- glassnode text -->
<g transform="translate(1165,697) scale(0.3215) translate(-490,-369.4)" fill="none" stroke="#ffffff" stroke-width="6.6">
<ellipse cx="504.6" cy="352.2" rx="12" ry="14.6"/>
<path d="M516.6,335 V372 Q516.6,381 504,381 Q495,381 491,375"/>
<path d="M532.8,320.8 V369.4"/>
<ellipse cx="556.5" cy="352.2" rx="11.9" ry="14.6"/>
<path d="M568.4,335 V369.4"/>
<path d="M606.5,341.5 C604,338.5 600.5,337.6 597.5,337.6 C592,337.6 589,340.5 589,344.2 C589,353 606.5,349 606.5,359.5 C606.5,363.8 602.5,366.8 597.5,366.8 C593.5,366.8 590,365 588,362"/>
<path d="M634.5,341.5 C632,338.5 628.5,337.6 625.5,337.6 C620,337.6 617,340.5 617,344.2 C617,353 634.5,349 634.5,359.5 C634.5,363.8 630.5,366.8 625.5,366.8 C621.5,366.8 618,365 616,362"/>
<path d="M646.6,369.4 V335 M646.6,350 Q646.6,337.6 658.5,337.6 Q670.5,337.6 670.5,350 V369.4"/>
<circle cx="697.1" cy="352.5" r="14.6"/>
<ellipse cx="737.9" cy="352.4" rx="14.1" ry="14.6"/>
<path d="M752.2,320.8 V369.4"/>
<path d="M765,352.5 H794.1 A14.6,14.6 0 1 0 790.5,362"/>
</g>
</g>

</g></svg></body></html>
